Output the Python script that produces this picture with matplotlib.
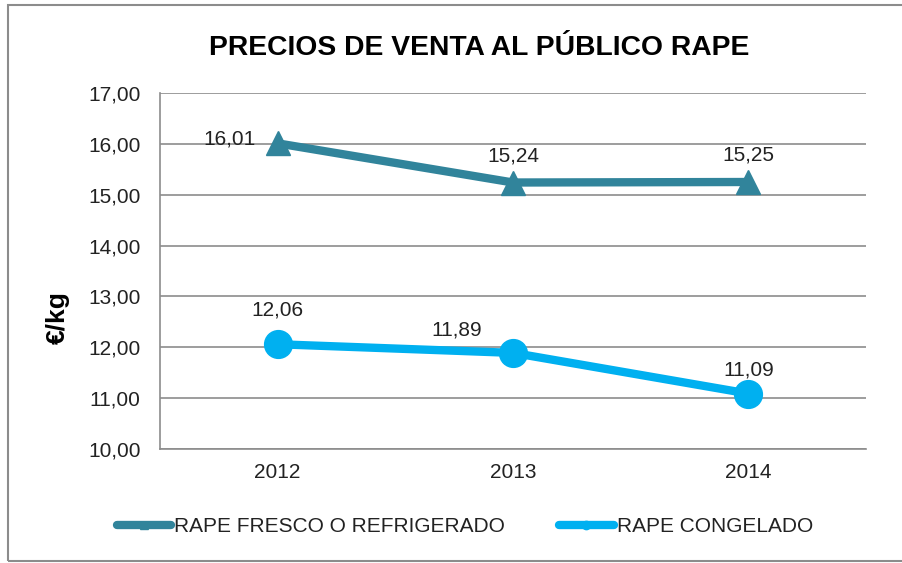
import matplotlib
matplotlib.use("Agg")
import matplotlib.pyplot as plt
from matplotlib.patches import Rectangle
from matplotlib.ticker import FuncFormatter
from matplotlib.lines import Line2D

years = ["2012", "2013", "2014"]
fresco = [16.01, 15.24, 15.25]
congelado = [12.06, 11.89, 11.09]
fresco_name = "RAPE FRESCO O REFRIGERADO"
congelado_name = "RAPE CONGELADO"
title = "PRECIOS DE VENTA AL PÚBLICO RAPE"
ylabel = "€/kg"

plt.rcParams['font.family'] = ['Liberation Sans', 'DejaVu Sans']

W, H = 903, 563
fig = plt.figure(figsize=(W/100, H/100), dpi=100)
ax = fig.add_axes([160/W, 1-449/H, (866-160)/W, (449-93)/H])

c1 = "#31849B"
c2 = "#00B0F0"
x = list(range(len(years)))
ax.plot(x, fresco, color=c1, lw=6, marker='^', ms=17, solid_capstyle='round', zorder=3)
ax.plot(x, congelado, color=c2, lw=6, marker='o', ms=20, solid_capstyle='round', zorder=3)

ax.set_xlim(-0.5, 2.5)
ax.set_ylim(10, 17)
ax.set_yticks(range(10, 18))
ax.yaxis.set_major_formatter(FuncFormatter(lambda v, p: f"{v:.2f}".replace('.', ',')))
ax.set_xticks(x)
ax.set_xticklabels(years)
ax.grid(axis='y', color='#8c8c8c', lw=1.2)
ax.set_axisbelow(True)
for s in ['top', 'right']:
    ax.spines[s].set_visible(False)
for s in ['left', 'bottom']:
    ax.spines[s].set_color('#8c8c8c')
    ax.spines[s].set_linewidth(1.2)
ax.tick_params(axis='both', length=0, labelsize=15, colors='#222222')
ax.tick_params(axis='y', pad=14)
ax.tick_params(axis='x', pad=10)
ax.set_ylabel(ylabel, fontsize=19, fontweight='bold')
ax.yaxis.set_label_coords(-0.127, 0.37)

def fmt(v):
    return f"{v:.2f}".replace('.', ',')

off1 = [(-48, 4), (0, 27), (0, 27)]
off2 = [(0, 34), (-56, 23), (0, 24)]
for i, v in enumerate(fresco):
    ax.annotate(fmt(v), (i, v), xytext=off1[i], textcoords='offset pixels',
                ha='center', va='center', fontsize=15, color='#222222')
for i, v in enumerate(congelado):
    ax.annotate(fmt(v), (i, v), xytext=off2[i], textcoords='offset pixels',
                ha='center', va='center', fontsize=15, color='#222222')

fig.text(479/W, 1-48/H, title, ha='center', va='center', fontsize=20.3, fontweight='bold',
         color='#000000')

handles = [Line2D([], [], color=c1, lw=6, marker='^', ms=6, solid_capstyle='round'),
           Line2D([], [], color=c2, lw=6, marker='o', ms=6, solid_capstyle='round')]
leg = fig.legend(handles, [fresco_name, congelado_name], loc='center',
                 bbox_to_anchor=(465/W, 1-527/H), ncol=2, frameon=False,
                 fontsize=15, handlelength=2.6, handletextpad=0.15, columnspacing=2.6)
for t in leg.get_texts():
    t.set_color('#222222')

fig.patches.append(Rectangle((8/W, 1-561/H), 1.2, (561-5)/H, transform=fig.transFigure,
                             fill=False, edgecolor='#8c8c8c', lw=1.5))

fig.savefig("out.png", dpi=100)
